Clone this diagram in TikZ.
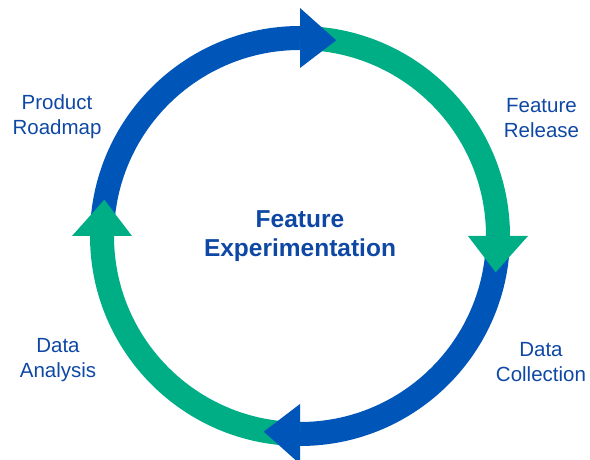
\documentclass[tikz,border=0pt]{standalone}
\usepackage{fontspec}
\setmainfont{Liberation Sans}
\usetikzlibrary{calc}

\definecolor{cycle blue}{RGB}{0,86,184}
\definecolor{cycle green}{RGB}{0,174,134}
\definecolor{label blue}{RGB}{14,72,164}

\begin{document}
\begin{tikzpicture}[x=1pt, y=1pt,
    band/.style={line width=24pt},
    stage label/.style={align=center, anchor=base, text=label blue,
        font=\fontsize{20.5}{25}\selectfont}
]
    \useasboundingbox (0,0) rectangle (590,460);
    \coordinate (hub) at (300,224);

    % the four quarter bands
    \foreach \a/\c in {180/cycle blue, 90/cycle green, 0/cycle blue, -90/cycle green}
        \draw[band, draw=\c] ($(hub)+(\a:198)$) arc (\a:\a-90:198);

    % heads on top
    \foreach \a/\c in {90/cycle blue, 0/cycle green, -90/cycle blue, 180/cycle green}
        \fill[\c] ($(hub)+(\a:168)$) -- ($(hub)+(\a:228)$)
            -- ($(hub)+({\a-10.5}:199)$) -- cycle;

    \node[align=center, text=label blue, font=\fontsize{24.5}{29}\selectfont\bfseries]
        (hub label) at (hub) {Feature\\Experimentation};

    \node[stage label] (roadmap) at (57,325) {Product\\Roadmap};
    \node[stage label] (release) at (541.5,322) {Feature\\Release};
    \node[stage label] (collection) at (541,78) {Data\\Collection};
    \node[stage label] (analysis) at (58,82) {Data\\Analysis};
\end{tikzpicture}
\end{document}
